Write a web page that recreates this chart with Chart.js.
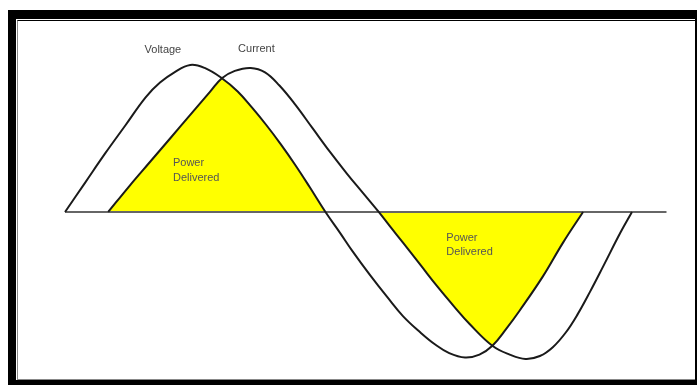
<!DOCTYPE html>
<html>
<head>
<meta charset="utf-8">
<script src="https://cdn.jsdelivr.net/npm/chart.js"></script>
<style>
  html, body { margin: 0; padding: 0; background: #fff; }
  #wrap { position: relative; width: 697px; height: 385px; overflow: hidden; }
  .blk { position: absolute; }
  #canvas { position: absolute; left: 0; top: 0; }
</style>
</head>
<body>
<div id="wrap">
  <!-- the frame round the picture -->
  <div class="blk" style="left:8px;top:10px;width:689px;height:375px;background:#000"></div>
  <div class="blk" style="left:16px;top:19px;width:679px;height:361px;background:#fff"></div>
  <div class="blk" style="left:17px;top:20px;width:678px;height:360px;box-sizing:border-box;border-top:1px solid #000;border-left:1px solid #888;border-bottom:1px solid #888"></div>
  <canvas id="canvas" width="697" height="385"></canvas>
</div>
<script>
// phase in degrees (voltage period = 360), amplitude in % of peak
var voltageX = [0, 14, 28, 42, 56, 66, 76, 87, 97, 109, 120, 130, 140, 150, 160, 170, 181, 191, 200, 212, 224, 235, 247, 257, 267, 278, 288, 297, 307, 316, 332, 346, 360];
var voltageY = [0, 20, 40, 59, 78, 88, 95, 100, 98, 91, 82, 71, 59, 46, 32, 17, 0, -14, -27, -43, -58, -71, -82, -90, -96, -99, -97, -91, -79, -67, -44, -21, 0];

var currentX = [30, 45, 59, 73, 87, 101, 109, 118, 129, 139, 149, 160, 172, 184, 196, 207, 218, 226, 235, 247, 259, 271, 281, 297, 309, 320, 330, 339, 348, 356, 365, 374, 386, 394];
var currentY = [0, 18, 34, 50, 66, 82, 91, 96, 98, 95, 86, 73, 57, 41, 26, 13, 0, -10, -21, -36, -51, -65, -76, -91, -97, -100, -98, -92, -82, -70, -54, -37, -14, 0];

var axisX = [0, 418];
var axisY = [0, 0];

// where the two waves cross, and where each lobe of delivered power ends
var crossings = [109, 297];
var lobeEnds = [[30, 181], [218, 360]];

function pts(xs, ys) {
    return xs.map(function(x, i) { return { x: x, y: ys[i] }; });
}

var voltage = pts(voltageX, voltageY);
var current = pts(currentX, currentY);

function between(list, a, b) {
    return list.filter(function(p) { return p.x >= a && p.x <= b; });
}

var labels = [
    { text: 'Voltage', x: 68, y: 110, align: 'center', color: '#444' },
    { text: 'Current', x: 133, y: 111, align: 'center', color: '#444' },
    { text: 'Power', x: 75, y: 33, align: 'left', color: '#555' },
    { text: 'Delivered', x: 75, y: 23, align: 'left', color: '#555' },
    { text: 'Power', x: 265, y: -18, align: 'left', color: '#555' },
    { text: 'Delivered', x: 265, y: -27, align: 'left', color: '#555' }
];

var textPlugin = {
    id: 'texts',
    afterDatasetsDraw: function(chart) {
        var c = chart.ctx;
        c.save();
        c.font = '11px "Liberation Sans", Arial, sans-serif';
        c.textBaseline = 'middle';
        labels.forEach(function(l) {
            c.fillStyle = l.color;
            c.textAlign = l.align;
            c.fillText(l.text, chart.scales.x.getPixelForValue(l.x), chart.scales.y.getPixelForValue(l.y));
        });
        c.restore();
    }
};

var waveStyle = {
    borderColor: '#1a1a1a',
    borderWidth: 2,
    pointRadius: 0,
    fill: false,
    tension: 0.4
};

// yellow area: under the current up to the crossing, under the voltage after it
function yellow(data, tension) {
    return { data: data, borderWidth: 0, pointRadius: 0, backgroundColor: '#ffff00', fill: 'origin', tension: tension, order: 2 };
}

function lobe(n) {
    var left = between(current, lobeEnds[n][0], crossings[n]);
    var right = between(voltage, crossings[n] + 1, lobeEnds[n][1]);
    return left.concat(right);
}

var ctx = document.getElementById('canvas').getContext('2d');
var chart = new Chart(ctx, {
    type: 'line',
    data: {
        datasets: [
            Object.assign({ label: 'Voltage', data: voltage, order: 0 }, waveStyle),
            Object.assign({ label: 'Current', data: current, order: 0 }, waveStyle),
            { label: 'axis', data: pts(axisX, axisY), borderColor: '#666', borderWidth: 2, pointRadius: 0, order: 1 },
            yellow(between(current, lobeEnds[0][0], crossings[0]), 0.4),
            yellow(between(voltage, crossings[0], lobeEnds[0][1]), 0.4),
            yellow(lobe(0), 0),
            yellow(between(current, lobeEnds[1][0], crossings[1]), 0.4),
            yellow(between(voltage, crossings[1], lobeEnds[1][1]), 0.4),
            yellow(lobe(1), 0)
        ]
    },
    options: {
        responsive: false,
        animation: false,
        layout: { padding: 0 },
        plugins: { legend: { display: false }, tooltip: { enabled: false } },
        scales: {
            x: { type: 'linear', display: false, min: -45.2, max: 439.2 },
            y: { type: 'linear', display: false, min: -117.7, max: 144.2 }
        }
    },
    plugins: [textPlugin]
});
</script>
</body>
</html>
